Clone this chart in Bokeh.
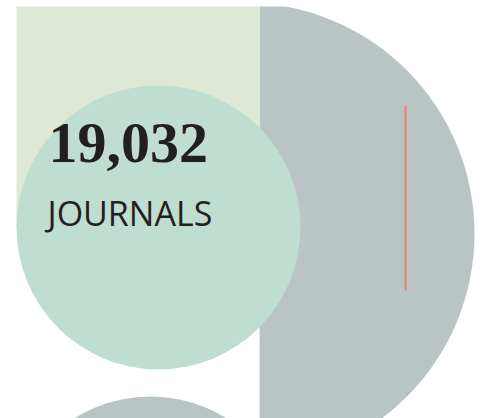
from bokeh.plotting import figure
from bokeh.models import Range1d
from bokeh.embed import file_html
from bokeh.resources import INLINE
from bokeh.core.properties import value

# ---- values (pixel-space coordinates) ----
label_number = ["19,032"]
label_unit = ["JOURNALS"]

# big grey disc (right part only, cut at a vertical edge and at the top)
big_cx = [243]
big_cy = [233]
big_r = [231]
cut_x = 259
cut_top = 6

# pale green panel
panel_left = [16]
panel_right = [259]
panel_top = [6]
panel_bottom = [227]

# green circle
green_cx = [158]
green_cy = [227]
green_r = [142]

# lower grey circle
low_cx = [150]
low_cy = [540]
low_r = [144]

# red marker line
line_x = [405, 405]
line_y = [105, 290]

# text anchors
num_x = [48]
num_y = [142]
unit_x = [47]
unit_y = [212]

W, H = 481, 418
p = figure(width=W, height=H, output_backend="svg", toolbar_location=None,
           x_range=Range1d(0, W), y_range=Range1d(H, 0),
           min_border=0, background_fill_color="white", border_fill_color="white")
p.axis.visible = False
p.grid.visible = False
p.outline_line_color = None

grey = "#bac4c5"
p.circle(x=big_cx, y=big_cy, radius=big_r, fill_color=grey, line_color=None)
# masks: left of the vertical cut and above the top edge
p.quad(left=[-10], right=[cut_x], top=[-10], bottom=[500], fill_color="white", line_color=None)
p.quad(left=[-10], right=[W + 10], top=[-10], bottom=[cut_top], fill_color="white", line_color=None)

p.quad(left=panel_left, right=panel_right, top=panel_top, bottom=panel_bottom,
       fill_color="#dde9d5", line_color=None)
p.circle(x=green_cx, y=green_cy, radius=green_r, fill_color="#c0ddd1", line_color=None)
p.circle(x=low_cx, y=low_cy, radius=low_r, fill_color=grey, line_color=None)

p.line(x=line_x, y=line_y, line_color="#e8826e", line_width=2)

p.text(x=num_x, y=num_y, text=label_number, text_font=value("Liberation Serif"),
       text_font_style="bold", text_font_size="58px", text_color="#231f20",
       text_baseline="alphabetic", text_align="left")
p.text(x=unit_x, y=unit_y, text=label_unit, text_font=value("Open Sans"),
       text_font_size="34px", text_color="#231f20",
       text_baseline="alphabetic", text_align="left")

open("out.html", "w").write(file_html(p, INLINE))
